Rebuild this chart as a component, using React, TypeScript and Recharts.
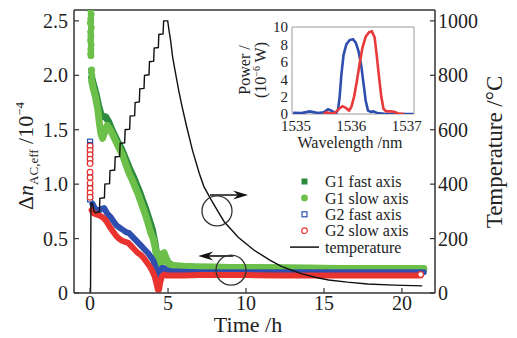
import React from "react";
import {
  ComposedChart,
  LineChart,
  Line,
  Scatter,
  XAxis,
  YAxis,
  Legend,
  ReferenceLine,
  ReferenceDot,
  ReferenceArea,
} from "recharts";

const FONT = "Liberation Serif, DejaVu Serif, serif";
const INK = "#222";

const C_G1_FAST = "#2b8a3e";
const C_G1_SLOW = "#6cc04a";
const C_G2_FAST = "#2f4fb0";
const C_G2_SLOW = "#e8332f";

// ---- main plot: time (h) vs delta n (1e-4) ----
const g1FastTime = [0.1, 0.25, 0.4, 0.55, 0.7, 0.85, 1.0, 1.2, 1.4, 1.6, 1.8, 2.0, 2.2, 2.4, 2.6, 2.8, 3.0, 3.2, 3.4, 3.6, 3.8, 4.0, 4.15, 4.3, 4.4, 4.5, 4.65, 4.8, 5.0, 5.3, 6, 8, 10, 12, 14, 16, 18, 20, 21.4];
const g1FastValue = [1.98, 1.9, 1.82, 1.72, 1.64, 1.62, 1.62, 1.57, 1.5, 1.44, 1.38, 1.33, 1.26, 1.19, 1.12, 1.06, 0.99, 0.92, 0.84, 0.76, 0.67, 0.58, 0.47, 0.33, 0.21, 0.25, 0.33, 0.34, 0.28, 0.25, 0.24, 0.235, 0.23, 0.23, 0.225, 0.225, 0.22, 0.22, 0.22];

const g1SlowTime = [0.1, 0.2, 0.35, 0.5, 0.6, 0.7, 0.8, 0.95, 1.1, 1.3, 1.5, 1.7, 1.9, 2.1, 2.3, 2.5, 2.7, 2.9, 3.1, 3.3, 3.5, 3.7, 3.9, 4.05, 4.2, 4.32, 4.42, 4.52, 4.62, 4.75, 4.9, 5.1, 5.4, 6, 7, 8, 9, 10, 12, 14, 16, 18, 20, 21.4];
const g1SlowValue = [1.95, 1.88, 1.8, 1.68, 1.56, 1.46, 1.42, 1.48, 1.54, 1.5, 1.44, 1.38, 1.32, 1.26, 1.18, 1.1, 1.04, 0.97, 0.9, 0.82, 0.74, 0.65, 0.55, 0.5, 0.4, 0.28, 0.2, 0.28, 0.36, 0.37, 0.3, 0.26, 0.25, 0.245, 0.24, 0.24, 0.235, 0.235, 0.23, 0.23, 0.225, 0.225, 0.225, 0.225];

const g2FastTime = [0.15, 0.3, 0.5, 0.7, 0.9, 1.1, 1.3, 1.5, 1.7, 1.9, 2.1, 2.3, 2.5, 2.7, 2.9, 3.1, 3.3, 3.5, 3.7, 3.9, 4.05, 4.2, 4.32, 4.4, 4.5, 4.6, 4.75, 4.9, 5.2, 6, 7, 8, 10, 12, 14, 16, 18, 20, 21.4];
const g2FastValue = [0.82, 0.78, 0.75, 0.77, 0.78, 0.73, 0.7, 0.66, 0.62, 0.6, 0.58, 0.56, 0.55, 0.52, 0.49, 0.46, 0.43, 0.4, 0.37, 0.33, 0.3, 0.24, 0.17, 0.13, 0.19, 0.23, 0.23, 0.21, 0.2, 0.195, 0.19, 0.19, 0.19, 0.19, 0.19, 0.19, 0.19, 0.19, 0.19];

const g2SlowTime = [0.1, 0.25, 0.45, 0.65, 0.85, 1.05, 1.25, 1.45, 1.65, 1.85, 2.05, 2.25, 2.45, 2.65, 2.85, 3.05, 3.25, 3.45, 3.65, 3.85, 4.0, 4.15, 4.27, 4.35, 4.42, 4.5, 4.6, 4.75, 4.9, 5.2, 6, 7, 8, 10, 12, 14, 16, 18, 20, 21.2];
const g2SlowValue = [0.76, 0.73, 0.72, 0.71, 0.69, 0.66, 0.61, 0.57, 0.53, 0.5, 0.48, 0.47, 0.46, 0.43, 0.4, 0.37, 0.35, 0.32, 0.28, 0.24, 0.2, 0.15, 0.08, 0.03, 0.03, 0.1, 0.15, 0.17, 0.16, 0.16, 0.16, 0.165, 0.165, 0.165, 0.16, 0.16, 0.16, 0.16, 0.16, 0.16];

// first readings at t ~ 0 (loose column of markers)
const g1SlowColTime = [0.03, 0.07, 0.05, 0.02, 0.08, 0.04, 0.06, 0.03, 0.07, 0.05, 0.04, 0.06, 0.1, 0.12];
const g1SlowColValue = [2.6, 2.56, 2.52, 2.48, 2.44, 2.4, 2.36, 2.32, 2.28, 2.24, 2.2, 2.18, 2.05, 2.0];
const g1FastColTime = [0.05, 0.05, 0.06, 0.08];
const g1FastColValue = [2.5, 2.36, 2.22, 2.04];
const g2FastColTime = [0.0, 0.0, 0.0, 0.0, 0.0, 0.0, 0.0, 0.0, 0.0, 0.0];
const g2FastColValue = [1.39, 1.36, 1.33, 1.29, 1.25, 1.21, 1.07, 0.98, 0.9, 0.86];
const g2SlowColTime = [0.0, 0.0, 0.0, 0.0, 0.0, 0.0, 0.0, 0.0, 0.0, 0.0, 0.0, 21.2];
const g2SlowColValue = [1.35, 1.31, 1.27, 1.23, 1.19, 1.11, 1.06, 1.01, 0.96, 0.92, 0.88, 0.17];

// furnace temperature (deg C)
const tempTime = [0.03, 0.06, 0.15, 0.25, 0.35, 0.6, 0.63, 0.92, 0.95, 1.25, 1.28, 1.58, 1.61, 1.9, 1.93, 2.22, 2.25, 2.54, 2.57, 2.86, 2.89, 3.16, 3.19, 3.46, 3.49, 3.78, 3.81, 4.08, 4.11, 4.38, 4.41, 4.68, 4.72, 4.98, 5.05, 5.16, 5.3, 5.48, 5.7, 5.9, 6.2, 6.56, 7.0, 7.3, 7.74, 8.2, 8.6, 9.5, 10.5, 11.5, 12.3, 13.0, 13.6, 14.5, 15.3, 16.5, 17.8, 19.5, 21.3];
const tempValue = [0, 340, 330, 300, 295, 298, 348, 350, 400, 402, 450, 452, 500, 502, 550, 552, 600, 602, 650, 652, 700, 702, 750, 752, 800, 802, 850, 852, 900, 902, 950, 952, 1000, 1000, 970, 930, 865, 808, 740, 685, 610, 526, 440, 391, 345, 300, 262, 205, 158, 122, 97, 82, 70, 57, 48, 40, 33, 29, 26];

const timeTicks = [0, 5, 10, 15, 20];
const dnTicks = [0, 0.5, 1.0, 1.5, 2.0, 2.5];
const tempTicks = [0, 200, 400, 600, 800, 1000];

// annotation rings and arrows (time, delta n)
const ringTime = [8.14, 9.04];
const ringValue = [0.754, 0.21];
const arrowFrom = [[7.69, 0.9], [9.19, 0.34]];
const arrowTo = [[10.13, 0.9], [6.94, 0.34]];

// ---- inset: reflection spectra ----
const blueWl = [1534.95, 1535.1, 1535.25, 1535.4, 1535.5, 1535.58, 1535.65, 1535.72, 1535.76, 1535.79, 1535.82, 1535.86, 1535.91, 1535.97, 1536.03, 1536.08, 1536.13, 1536.18, 1536.22, 1536.26, 1536.3, 1536.35, 1536.4, 1536.47, 1536.6, 1536.9, 1537.12];
const bluePw = [0.15, 0.1, 0.3, 0.1, 0.2, 0.55, 0.35, 0.05, 0.5, 2.0, 4.5, 6.8, 8.0, 8.5, 8.6, 8.2, 7.2, 5.5, 3.5, 1.5, 0.4, 0.25, 0.3, 0.1, 0.02, 0.0, 0.0];
const redWl = [1535.5, 1535.55, 1535.62, 1535.7, 1535.78, 1535.84, 1535.9, 1535.96, 1536.0, 1536.05, 1536.1, 1536.15, 1536.2, 1536.26, 1536.32, 1536.37, 1536.42, 1536.46, 1536.5, 1536.54, 1536.58, 1536.63, 1536.7, 1536.77, 1536.85, 1536.95];
const redPw = [0, 0.2, 0.05, 0.1, 0.6, 0.9, 0.7, 0.4, 0.8, 2.0, 3.8, 5.8, 7.6, 8.9, 9.4, 9.5, 8.8, 6.6, 4.2, 2.0, 0.6, 0.3, 0.3, 0.25, 0.05, 0];
const wlTicks = [1535, 1536, 1537];
const pwTicks = [0, 2, 4, 6, 8, 10];

const zip = (xs: number[], ys: number[]) => xs.map((t, i) => ({ t, v: ys[i] }));

const g1Fast = zip(g1FastTime, g1FastValue);
const g1Slow = zip(g1SlowTime, g1SlowValue);
const g2Fast = zip(g2FastTime, g2FastValue);
const g2Slow = zip(g2SlowTime, g2SlowValue);
const g1SlowCol = zip(g1SlowColTime, g1SlowColValue);
const g1FastCol = zip(g1FastColTime, g1FastColValue);
const g2FastCol = zip(g2FastColTime, g2FastColValue);
const g2SlowCol = zip(g2SlowColTime, g2SlowColValue);
const temperature = zip(tempTime, tempValue);
const blueSpec = zip(blueWl, bluePw);
const redSpec = zip(redWl, redPw);

const filledSquare = (color: string) => (p: any) => (
  <rect x={p.cx - 3} y={p.cy - 3} width={6} height={6} fill={color} />
);
const filledCircle = (color: string) => (p: any) => (
  <circle cx={p.cx} cy={p.cy} r={3.4} fill={color} />
);
const openSquare = (color: string) => (p: any) => (
  <rect x={p.cx - 2.5} y={p.cy - 2.5} width={5} height={5} fill="#fff" stroke={color} strokeWidth={1.2} />
);
const openCircle = (color: string) => (p: any) => (
  <circle cx={p.cx} cy={p.cy} r={2.8} fill="#fff" stroke={color} strokeWidth={1.2} />
);

const arrowShape = (p: any) => {
  const { x1, y1, x2, y2 } = p;
  const dir = x2 > x1 ? 1 : -1;
  return (
    <g>
      <line x1={x1} y1={y1} x2={x2 - dir * 6} y2={y2} stroke="#111" strokeWidth={1.6} />
      <path
        d={`M${x2},${y2} L${x2 - dir * 15},${y2 - 4.5} L${x2 - dir * 10},${y2} L${x2 - dir * 15},${y2 + 4.5} Z`}
        fill="#111"
      />
    </g>
  );
};

function LegendBox() {
  const rows = [
    { label: "G1 fast axis", mark: <rect x={18.5} y={-3} width={6} height={6} fill={C_G1_FAST} /> },
    { label: "G1 slow axis", mark: <circle cx={21.5} cy={0} r={3.4} fill={C_G1_SLOW} /> },
    { label: "G2 fast axis", mark: <rect x={19} y={-2.5} width={5} height={5} fill="#fff" stroke={C_G2_FAST} strokeWidth={1.2} /> },
    { label: "G2 slow axis", mark: <circle cx={21.5} cy={0} r={2.8} fill="#fff" stroke={C_G2_SLOW} strokeWidth={1.2} /> },
    { label: "temperature", mark: <line x1={7} x2={36} y1={0} y2={0} stroke="#111" strokeWidth={1.5} /> },
  ];
  return (
    <svg width={180} height={92} style={{ display: "block" }}>
      {rows.map((r, i) => (
        <g key={r.label} transform={`translate(0, ${11.5 + 16.4 * i})`}>
          {r.mark}
          <text x={42} y={0} dy="0.35em" style={{ fontFamily: FONT }} fontSize={16} fill={INK}>
            {r.label}
          </text>
        </g>
      ))}
    </svg>
  );
}

export default function App() {
  const tickStyle = { fill: INK, fontSize: 20, fontFamily: FONT, style: { fontFamily: FONT } };
  const txt = { fontFamily: FONT };
  return (
    <div style={{ position: "absolute", left: 0, top: 0, width: 517, height: 338, background: "#fff", fontFamily: FONT }}>
      <ComposedChart width={517} height={338} margin={{ top: 10, right: 0, bottom: 0, left: 0 }} style={{ fontFamily: FONT }}>
        <XAxis
          type="number"
          dataKey="t"
          domain={[-1.03, 22.12]}
          ticks={timeTicks}
          allowDataOverflow
          height={45}
          tickSize={-5}
          tickMargin={8}
          interval={0}
          tick={tickStyle}
          axisLine={{ stroke: "#333", strokeWidth: 1.5 }}
          tickLine={{ stroke: "#333", strokeWidth: 1.2 }}
        />
        <YAxis
          yAxisId="left"
          dataKey="v"
          type="number"
          domain={[0, 2.6]}
          ticks={dnTicks}
          allowDataOverflow
          width={74}
          tickSize={-5}
          tickMargin={11}
          interval={0}
          tick={tickStyle}
          tickFormatter={(v: number) => (v === 0 ? "0" : v.toFixed(1))}
          axisLine={{ stroke: "#333", strokeWidth: 1.5 }}
          tickLine={{ stroke: "#333", strokeWidth: 1.2 }}
        />
        <YAxis
          yAxisId="right"
          orientation="right"
          type="number"
          domain={[0, 1040]}
          ticks={tempTicks}
          allowDataOverflow
          width={82}
          tickSize={-5}
          tickMargin={8}
          interval={0}
          tick={{ ...tickStyle, textAnchor: "start" }}
          axisLine={{ stroke: "#333", strokeWidth: 1.5 }}
          tickLine={{ stroke: "#333", strokeWidth: 1.2 }}
        />
        <ReferenceLine yAxisId="left" y={2.6} stroke="#333" strokeWidth={1.5} />

        <Line yAxisId="left" data={g1Fast} dataKey="v" type="linear" stroke={C_G1_FAST} strokeWidth={7} strokeLinecap="round" strokeLinejoin="round" dot={false} isAnimationActive={false} />
        <Scatter yAxisId="left" data={g1FastCol} dataKey="v" shape={filledSquare(C_G1_FAST)} isAnimationActive={false} />
        <Line yAxisId="left" data={g1Slow} dataKey="v" type="linear" stroke={C_G1_SLOW} strokeWidth={7} strokeLinecap="round" strokeLinejoin="round" dot={false} isAnimationActive={false} />
        <Scatter yAxisId="left" data={g1SlowCol} dataKey="v" shape={filledCircle(C_G1_SLOW)} isAnimationActive={false} />
        <Line yAxisId="left" data={g2Fast} dataKey="v" type="linear" stroke={C_G2_FAST} strokeWidth={6} strokeLinecap="round" strokeLinejoin="round" dot={false} isAnimationActive={false} />
        <Scatter yAxisId="left" data={g2FastCol} dataKey="v" shape={openSquare(C_G2_FAST)} isAnimationActive={false} />
        <Line yAxisId="left" data={g2Slow} dataKey="v" type="linear" stroke={C_G2_SLOW} strokeWidth={6} strokeLinecap="round" strokeLinejoin="round" dot={false} isAnimationActive={false} />
        <Scatter yAxisId="left" data={g2SlowCol} dataKey="v" shape={openCircle(C_G2_SLOW)} isAnimationActive={false} />

        <Line yAxisId="right" data={temperature} dataKey="v" type="linear" stroke="#111" strokeWidth={1.4} dot={false} isAnimationActive={false} />

        {ringTime.map((t, i) => (
          <ReferenceDot key={`ring${i}`} yAxisId="left" x={t} y={ringValue[i]} r={15} fill="none" stroke="#333" strokeWidth={1.3} />
        ))}
        {arrowFrom.map((f, i) => (
          <ReferenceLine
            key={`arrow${i}`}
            yAxisId="left"
            segment={[{ x: f[0], y: f[1] }, { x: arrowTo[i][0], y: arrowTo[i][1] }]}
            shape={arrowShape}
          />
        ))}

        <Legend
          layout="vertical"
          align="center"
          verticalAlign="middle"
          wrapperStyle={{ left: 283, top: 170, width: 180, height: 92 }}
          content={() => <LegendBox />}
        />
      </ComposedChart>

      <div style={{ position: "absolute", left: 240, top: 15 }}>
        <LineChart width={185} height={140} margin={{ top: 12, right: 11, bottom: 0, left: 0 }} style={{ fontFamily: FONT }}>
          <XAxis
            type="number"
            dataKey="t"
            domain={[1534.93, 1537.13]}
            ticks={wlTicks}
            allowDataOverflow
            height={41}
            tickSize={0}
            tickMargin={6}
            interval={0}
            axisLine={false}
            tickLine={false}
            tick={{ fill: INK, fontSize: 15, fontFamily: FONT, style: txt }}
          />
          <YAxis
            type="number"
            domain={[0, 10]}
            ticks={pwTicks}
            allowDataOverflow
            width={52}
            tickSize={0}
            tickMargin={4}
            interval={0}
            axisLine={false}
            tickLine={false}
            tick={{ fill: INK, fontSize: 15, fontFamily: FONT, style: txt }}
          />
          <ReferenceArea x1={1534.93} x2={1537.13} y1={0} y2={10} fill="#fff" fillOpacity={0} stroke="#9a9a9a" strokeWidth={1} />
          <Line data={blueSpec} dataKey="v" type="linear" stroke={C_G2_FAST} strokeWidth={2.6} dot={false} isAnimationActive={false} />
          <Line data={redSpec} dataKey="v" type="linear" stroke="#e83a3a" strokeWidth={2.6} dot={false} isAnimationActive={false} />
        </LineChart>
      </div>

      <svg width={517} height={338} style={{ position: "absolute", left: 0, top: 0, pointerEvents: "none", fontFamily: FONT }}>
        <text transform="translate(33,156) rotate(-90)" textAnchor="middle" style={txt} fontSize={22} fill={INK}>
          Δ<tspan fontStyle="italic">n</tspan>
          <tspan fontSize={13} dy={5}>AC,eff</tspan>
          <tspan dy={-5}> /10</tspan>
          <tspan fontSize={13} dy={-9}>−4</tspan>
        </text>
        <text transform="translate(502,152) rotate(-90)" textAnchor="middle" style={txt} fontSize={23} fill={INK}>
          Temperature /°C
        </text>
        <text x={248} y={332} textAnchor="middle" style={txt} fontSize={22} fill={INK}>
          Time /h
        </text>
        <text transform="translate(250,70) rotate(-90)" textAnchor="middle" style={txt} fontSize={16} fill={INK}>
          Power /
        </text>
        <text transform="translate(266,70) rotate(-90)" textAnchor="middle" style={txt} fontSize={16} fill={INK}>
          (10<tspan fontSize={10} dy={-6}>−6</tspan>
          <tspan dy={6}> W)</tspan>
        </text>
        <text x={350} y={148} textAnchor="middle" style={txt} fontSize={16} fill={INK}>
          Wavelength /nm
        </text>
      </svg>
    </div>
  );
}
